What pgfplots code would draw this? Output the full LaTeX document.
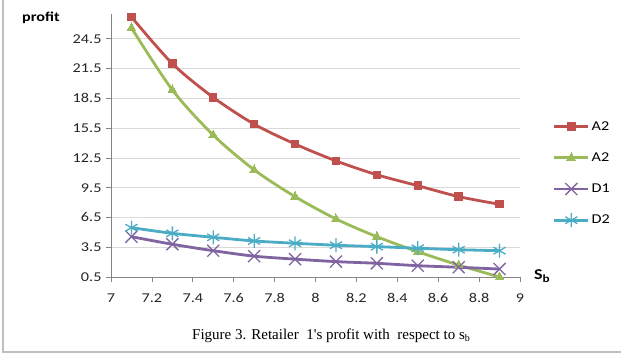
\documentclass[border=0pt]{standalone}
\usepackage{pgfplots}
\pgfplotsset{compat=1.18}
\usepackage{fontspec}
\setmainfont[FakeStretch=1.2]{Carlito}
\newfontfamily\capfont{Liberation Serif}

\definecolor{cRed}{HTML}{C0504D}
\definecolor{cGreen}{HTML}{9BBB59}
\definecolor{cPurple}{HTML}{8064A2}
\definecolor{cCyan}{HTML}{4BACC6}
\definecolor{cGrid}{HTML}{D9D9D9}
\definecolor{cAxis}{HTML}{868686}
\definecolor{cFrame}{HTML}{BFBFBF}

\pgfplotstableread{
sb    A2a   A2b   D1    D2
7.1   26.7  25.6  4.56  5.47
7.3   22.0  19.35 3.80  4.90
7.5   18.6  14.8  3.15  4.50
7.7   15.9  11.3  2.60  4.13
7.9   13.9  8.6   2.30  3.90
8.1   12.2  6.35  2.05  3.70
8.3   10.8  4.56  1.88  3.56
8.5   9.7   3.05  1.64  3.40
8.7   8.6   1.70  1.48  3.25
8.9   7.83  0.50  1.30  3.15
}\profit

\begin{document}
\begin{tikzpicture}
\useasboundingbox (0pt,0pt) rectangle (621pt,354pt);
\draw[cFrame, line width=1.2pt] (3pt,354pt) -- (3pt,2pt) -- (621pt,2pt);
\begin{axis}[
  at={(111pt,77pt)}, anchor=south west,
  scale only axis, width=409pt, height=263pt,
  xmin=7, xmax=9, ymin=0.5, ymax=27,
  clip=false,
  axis x line=bottom, axis y line=left,
  axis line style={-, cAxis, line width=0.8pt},
  xtick={7,7.2,7.4,7.6,7.8,8,8.2,8.4,8.6,8.8,9},
  ytick={0.5,3.5,6.5,9.5,12.5,15.5,18.5,21.5,24.5},
  yticklabel style={xshift=-1pt, /pgf/number format/.cd, fixed, fixed zerofill, precision=1},
  xticklabel style={yshift=-8pt},
  /pgf/number format/assume math mode=true,
  tick align=outside, major tick length=5pt,
  tick style={cAxis, line width=0.8pt},
  ymajorgrids, major grid style={cGrid, line width=0.8pt},
  tick label style={font=\fontsize{13.5}{15}\selectfont, text=black!85},
  every axis plot/.append style={smooth, line width=2.8pt},
  legend style={at={(1.08,0.60)}, anchor=north west, draw=none, fill=none,
    font=\fontsize{13.5}{15}\selectfont, row sep=17pt, inner sep=0pt},
  legend cell align=left,
  legend image code/.code={\draw[#1, mark repeat=2, mark phase=2] plot coordinates {(0pt,0pt) (17pt,0pt) (34pt,0pt)};},
]
\addplot[cRed, mark=square*, mark size=3.7pt, mark options={solid, line width=0pt}] table[x=sb, y=A2a] {\profit};
\addlegendentry{A2}
\addplot[cGreen, mark=triangle*, mark size=5pt, mark options={solid, line width=0pt}] table[x=sb, y=A2b] {\profit};
\addlegendentry{A2}
\addplot[cPurple, mark=x, mark size=8.5pt, mark options={solid, line width=1.3pt}] table[x=sb, y=D1] {\profit};
\addlegendentry{D1}
\addplot[cCyan, mark=asterisk, mark size=7pt, mark options={solid, line width=1.3pt}] table[x=sb, y=D2] {\profit};
\addlegendentry{D2}
\end{axis}
\node[anchor=base west, font=\fontsize{13.5}{15}\selectfont\bfseries, inner sep=0pt] at (22pt,332pt) {profit};
\node[anchor=base west, font=\fontsize{15}{17}\selectfont\bfseries, inner sep=0pt] at (534pt,75pt) {S\raisebox{-3pt}{\fontsize{11}{12}\selectfont b}};
\node[anchor=base west, font=\capfont\fontsize{15}{17}\selectfont, inner sep=0pt] at (192pt,15pt) {Figure 3. Retailer\ \ 1's profit with\ \ respect to s\raisebox{-2.5pt}{\fontsize{10}{11}\selectfont b}};
\end{tikzpicture}
\end{document}
